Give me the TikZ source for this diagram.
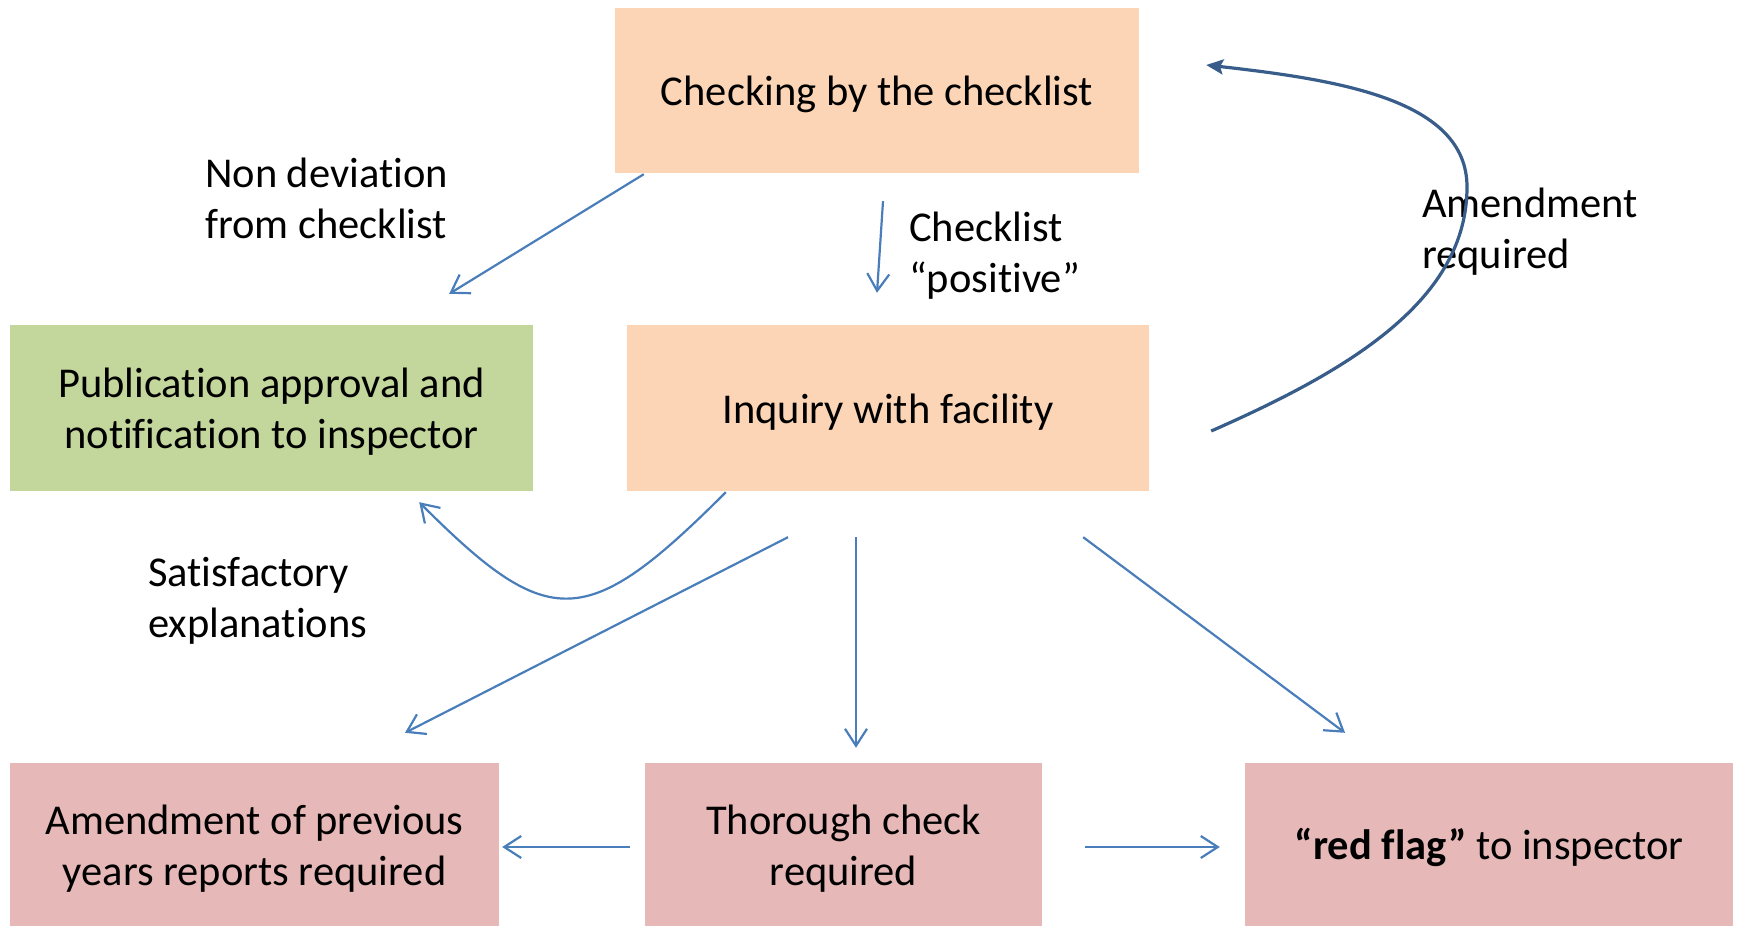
\documentclass[tikz,border=0pt]{standalone}
\usepackage{fontspec}
\setmainfont{Carlito}[Ligatures=NoCommon]
\usetikzlibrary{arrows.meta,calc}

\definecolor{peach}{HTML}{FBD5B5}
\definecolor{olive}{HTML}{C3D69B}
\definecolor{rose}{HTML}{E6B9B8}
\definecolor{linkblue}{HTML}{4A7EBB}
\definecolor{darkblue}{HTML}{385D8A}

\tikzset{
  box/.style={inner sep=0pt, align=center, text height=40.5pt, text depth=10.5pt,
    font=\fontsize{42.5}{51}\selectfont},
  twoline/.style={text height=91.5pt},
  lbl/.style={inner sep=0pt, align=left, anchor=base west, font=\fontsize{42.5}{51}\selectfont},
  conn/.style={linkblue, line width=2.2pt, -{Straight Barb[length=17pt,width=22pt]}},
  back/.style={darkblue, line width=3.2pt, -{Stealth[length=17pt,width=15pt,inset=3pt]}}
}

\begin{document}
\begin{tikzpicture}[x=1pt,y=-1pt]
      \useasboundingbox (0,0) rectangle (1739,926);

      % boxes
      \node[box,fill=peach,minimum width=524pt,minimum height=165pt] (check) at (877,90.5)
        {Checking by the checklist};
      \node[box,twoline,fill=olive,minimum width=523pt,minimum height=166pt] (pub) at (271.5,408)
        {Publication approval and\\notification to inspector};
      \node[box,fill=peach,minimum width=522pt,minimum height=166pt] (inq) at (888,408)
        {Inquiry with facility};
      \node[box,twoline,fill=rose,minimum width=489pt,minimum height=163pt] (amend) at (254.5,844.5)
        {Amendment of previous\\years reports required};
      \node[box,twoline,fill=rose,minimum width=397pt,minimum height=163pt] (thor) at (843.5,844.5)
        {Thorough check\\required};
      \node[box,fill=rose,minimum width=488pt,minimum height=163pt] (flag) at (1489,844.5)
        {\textbf{“red flag”} to inspector};

      % labels (base = last line)
      \node[lbl] (nondev) at (205,238) {Non deviation\\from checklist};
      \node[lbl] (positive) at (909,292) {Checklist\\“positive”};
      \node[lbl] (amendreq) at (1422,268) {Amendment\\required};
      \node[lbl] (satisf) at (148,637) {Satisfactory\\explanations};

      % connectors
      \draw[conn] ($(check.south west)+(29,1)$) -- ($(pub.north east)+(-84,-31)$);
      \draw[conn] ($(check.south)+(6,28)$) -- ($(inq.north)+(-11,-32)$);
      \draw[back] ($(inq.east)+(62,23)$) .. controls (1350,370) and (1467,300) .. (1467,187)
        .. controls (1467,100) and (1340,80) .. ($(check.east)+(67,-25.5)$);
      \draw[conn] ($(inq.south west)+(99,1)$) .. controls (586,632) and (549,632)
        .. ($(pub.south east)+(-114,11)$);
      \draw[conn] ($(inq.south)+(-100,46)$) -- ($(amend.north)+(150.5,-30)$);
      \draw[conn] ($(inq.south)+(-32,46)$) -- ($(thor.north)+(12.5,-15)$);
      \draw[conn] ($(inq.south east)+(-66,46)$) -- ($(flag.north)+(-144,-30)$);
      \draw[conn] ($(thor.west)+(-15,2.5)$) -- ($(amend.east)+(3,2.5)$);
      \draw[conn] ($(thor.east)+(43,2.5)$) -- ($(flag.west)+(-25,2.5)$);
    \end{tikzpicture}
\end{document}
